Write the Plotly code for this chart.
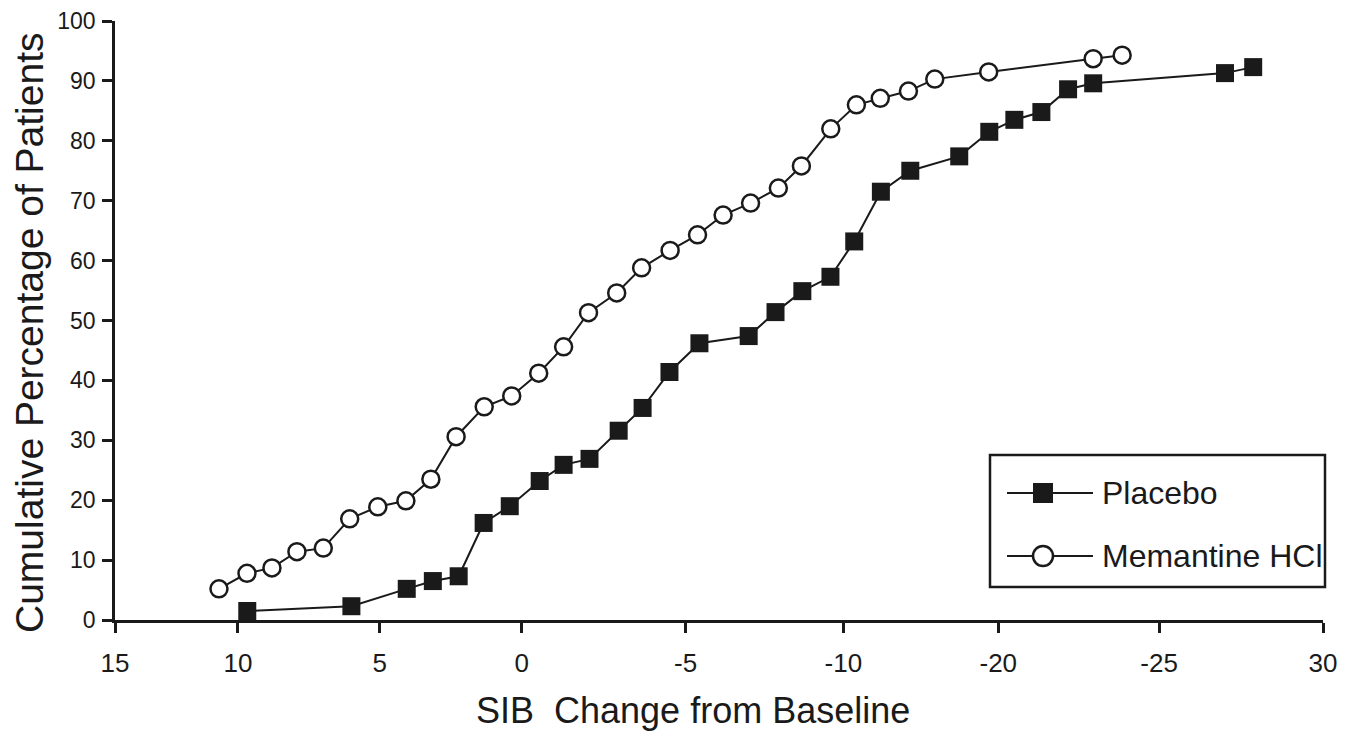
import numpy as np
import plotly.graph_objects as go

# ---- data (SIB change read against the printed ticks, cumulative %) ----
# Printed tick labels, kept exactly as in the source figure
tick_labels = ["15", "10", "5", "0", "-5", "-10", "-20", "-25", "30"]
# nominal value for each printed tick (5-unit steps) used to read the points
tick_nominal = [15, 10, 5, 0, -5, -10, -15, -20, -25]

placebo_x = [9.67, 6.0, 4.05, 3.13, 2.22, 1.34, 0.42, -0.55, -1.28, -2.07,
             -2.96, -3.69, -4.51, -5.44, -7.0, -7.85, -8.70, -9.59, -10.35,
             -11.21, -12.16, -13.74, -14.71, -15.5, -16.34, -17.17, -17.95,
             -22.01, -22.87]
placebo_y = [1.5, 2.3, 5.2, 6.5, 7.3, 16.2, 19.0, 23.2, 25.9, 26.9,
             31.6, 35.4, 41.4, 46.2, 47.4, 51.4, 54.9, 57.3, 63.2,
             71.5, 75.0, 77.4, 81.5, 83.5, 84.8, 88.6, 89.6,
             91.3, 92.3]

memantine_x = [10.77, 9.68, 8.80, 7.92, 6.99, 6.06, 5.07, 4.08, 3.20, 2.31,
               1.32, 0.35, -0.52, -1.28, -2.04, -2.90, -3.66, -4.53, -5.38,
               -6.19, -7.06, -7.94, -8.67, -9.60, -10.42, -11.19, -12.10,
               -12.95, -14.69, -17.95, -18.85]
memantine_y = [5.2, 7.8, 8.7, 11.4, 12.0, 16.9, 18.9, 19.9, 23.5, 30.6,
               35.6, 37.4, 41.2, 45.6, 51.3, 54.6, 58.8, 61.7, 64.3,
               67.6, 69.6, 72.1, 75.8, 82.0, 86.0, 87.1, 88.3,
               90.3, 91.5, 93.7, 94.3]

y_ticks = list(range(0, 101, 10))

x_title = "SIB  Change from Baseline"
y_title = "Cumulative Percentage of Patients"

# ---- layout: printed ticks are unevenly spaced along the axis ----
tick_pos = [0, 123, 265, 407, 571, 729, 884, 1045, 1209]


def to_axis(vals):
    return np.interp(-np.asarray(vals, float), -np.asarray(tick_nominal, float), tick_pos)


FONT = "Liberation Sans, Arial, sans-serif"
BLACK = "#1a1a1a"

FIG_W, FIG_H = 1349, 731
W, H = 1208, 599
L, T = 115, 21

fig = go.Figure()
fig.add_trace(go.Scatter(
    x=to_axis(placebo_x), y=placebo_y, mode="lines+markers", name="Placebo",
    line=dict(color=BLACK, width=2),
    marker=dict(symbol="square", size=18, color=BLACK, line=dict(width=0)),
    showlegend=False, cliponaxis=False))
fig.add_trace(go.Scatter(
    x=to_axis(memantine_x), y=memantine_y, mode="lines+markers", name="Memantine HCl",
    line=dict(color=BLACK, width=2),
    marker=dict(symbol="circle", size=17, color="white", line=dict(width=2.5, color=BLACK)),
    showlegend=False, cliponaxis=False))


# ---- legend box and titles placed as layout decoration (page pixel positions) ----
def px(xp):
    return (xp - L) / W


def py(yp):
    return (T + H - yp) / H


shapes = [dict(type="rect", xref="paper", yref="paper",
               x0=px(990), x1=px(1325), y0=py(587), y1=py(455),
               line=dict(color=BLACK, width=2.5), fillcolor="white", layer="below")]
legend_rows = [("Placebo", 493, "square"), ("Memantine HCl", 556, "circle")]
annotations = []
for name, yy, sym in legend_rows:
    shapes.append(dict(type="line", xref="paper", yref="paper",
                       x0=px(1007), x1=px(1093), y0=py(yy), y1=py(yy),
                       line=dict(color=BLACK, width=2)))
    if sym == "square":
        shapes.append(dict(type="rect", xref="paper", yref="paper",
                           xsizemode="pixel", ysizemode="pixel",
                           xanchor=px(1043), yanchor=py(yy),
                           x0=-10, x1=10, y0=-10, y1=10,
                           line=dict(width=0), fillcolor=BLACK))
    else:
        shapes.append(dict(type="circle", xref="paper", yref="paper",
                           xsizemode="pixel", ysizemode="pixel",
                           xanchor=px(1043), yanchor=py(yy),
                           x0=-10, x1=10, y0=-10, y1=10,
                           line=dict(width=2.5, color=BLACK), fillcolor="white"))
    annotations.append(dict(xref="paper", yref="paper", x=px(1100), y=py(yy),
                            text=name, showarrow=False, xanchor="left", yanchor="middle",
                            font=dict(family=FONT, size=32, color=BLACK)))

annotations.append(dict(xref="paper", yref="paper", x=px(693), y=py(710),
                        text=x_title, showarrow=False, xanchor="center", yanchor="middle",
                        font=dict(family=FONT, size=36, color=BLACK)))
annotations.append(dict(xref="paper", yref="paper", x=px(29), y=py(333),
                        text=y_title, showarrow=False, xanchor="center", yanchor="middle",
                        textangle=-90,
                        font=dict(family=FONT, size=39, color=BLACK)))

fig.update_layout(
    width=FIG_W, height=FIG_H,
    margin=dict(l=L, r=FIG_W - L - W, t=T, b=FIG_H - T - H),
    paper_bgcolor="white", plot_bgcolor="white",
    shapes=shapes, annotations=annotations,
    showlegend=False,
    xaxis=dict(range=[tick_pos[0], tick_pos[-1]], tickvals=tick_pos, ticktext=tick_labels,
               automargin=False,
               showgrid=False, zeroline=False, showline=True, linecolor=BLACK, linewidth=2.5,
               ticks="outside", ticklen=10, tickwidth=2.5, tickcolor=BLACK,
               ticklabelstandoff=8,
               tickfont=dict(family=FONT, size=26, color=BLACK)),
    yaxis=dict(range=[0, 100], tickvals=y_ticks, automargin=False,
               showgrid=False, zeroline=False, showline=True, linecolor=BLACK, linewidth=2.5,
               ticks="outside", ticklen=10, tickwidth=2.5, tickcolor=BLACK,
               ticklabelstandoff=2,
               tickfont=dict(family=FONT, size=23, color=BLACK)),
)

# remove the browser's default 8px body margin so the figure fills the window exactly
fig.write_html("out.html", config={"displayModeBar": False},
               post_script="document.body.style.margin='0';document.body.style.overflow='hidden';")
